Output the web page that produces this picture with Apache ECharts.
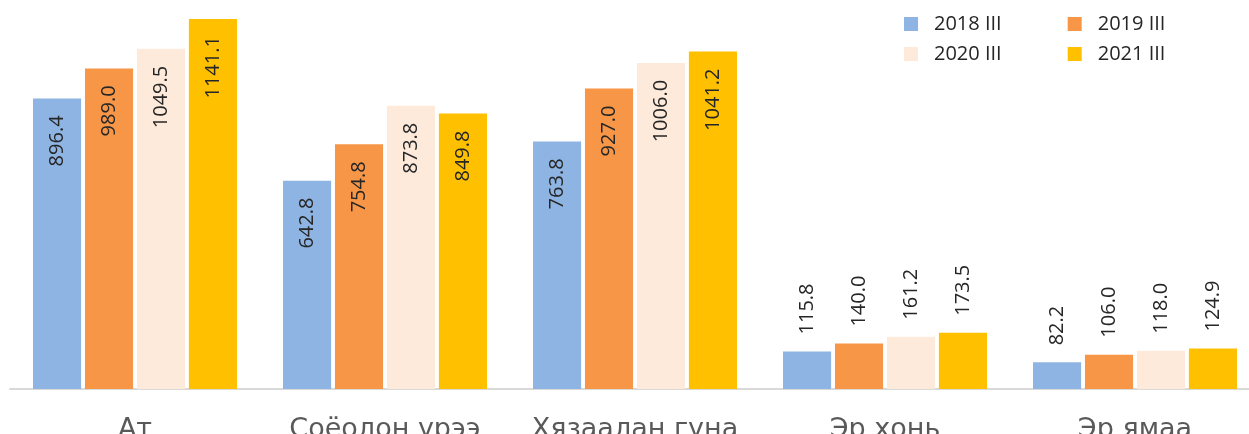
<!DOCTYPE html>
<html lang="mn">
<head>
    <meta charset="UTF-8">
    <title>Chart</title>
    <style>
        html, body { margin: 0; padding: 0; background: #fff; }
    </style>
</head>
<body>
<div id="chart-box" style="height:434px;width:1249px"></div>
<script src="https://cdn.jsdelivr.net/npm/echarts@6/dist/echarts.min.js"></script>
<script>
var categories = ['Ат', 'Соёолон үрээ', 'Хязаалан гуна', 'Эр хонь', 'Эр ямаа'];
var seriesNames = ['2018 III', '2019 III', '2020 III', '2021 III'];
var s2018 = [896.4, 642.8, 763.8, 115.8, 82.2];
var s2019 = [989.0, 754.8, 927.0, 140.0, 106.0];
var s2020 = [1049.5, 873.8, 1006.0, 161.2, 118.0];
var s2021 = [1141.1, 849.8, 1041.2, 173.5, 124.9];
var colors = ['#8EB4E3', '#F79646', '#FDEADA', '#FFC000'];

var allValues = [s2018, s2019, s2020, s2021];

// tall bars get the label inside, short ones above
function makeData(vals) {
    return vals.map(function (v) {
        var inside = v > 300;
        return {
            value: v,
            label: {
                position: inside ? 'insideTop' : 'top',
                align: inside ? 'right' : 'left',
                distance: 17
            }
        };
    });
}

var series = allValues.map(function (vals, i) {
    return {
        name: seriesNames[i],
        type: 'bar',
        barGap: '8%',
        barCategoryGap: '18.4%',
        itemStyle: { color: colors[i] },
        label: {
            show: true,
            rotate: 90,
            verticalAlign: 'middle',
            fontFamily: 'Open Sans',
            fontSize: 20,
            color: '#262626',
            formatter: function (p) { return p.value.toFixed(1); }
        },
        data: makeData(vals)
    };
});

var legendText = {
    fontFamily: 'Open Sans',
    fontSize: 20,
    color: '#262626',
    width: 80,
    padding: [0, 0, 0, 11]
};

var option = {
    animation: false,
    legend: [
        {
            data: seriesNames.slice(0, 2),
            left: 904, top: 14, padding: 0,
            itemWidth: 14, itemHeight: 14, itemGap: 66,
            icon: 'rect',
            textStyle: legendText
        },
        {
            data: seriesNames.slice(2, 4),
            left: 904, top: 44, padding: 0,
            itemWidth: 14, itemHeight: 14, itemGap: 66,
            icon: 'rect',
            textStyle: legendText
        }
    ],
    grid: {
        left: 10, width: 1250, top: 0, bottom: 45,
        containLabel: false,
        outerBoundsMode: 'none'
    },
    xAxis: {
        type: 'category',
        data: categories,
        axisLine: { lineStyle: { color: '#d9d9d9', width: 2 } },
        axisTick: { show: false },
        axisLabel: {
            margin: 27,
            fontFamily: 'DejaVu Sans',
            fontSize: 27,
            color: '#595959',
            interval: 0
        }
    },
    yAxis: {
        type: 'value',
        min: 0,
        max: 1200,
        show: false,
        splitLine: { show: false }
    },
    series: series
};

var yxChart = echarts.init(document.getElementById('chart-box'));
yxChart.setOption(option);
</script>
</body>
</html>
